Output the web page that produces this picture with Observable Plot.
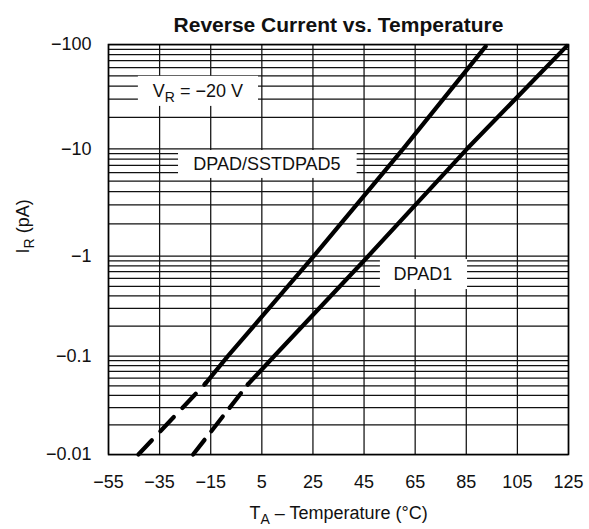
<!DOCTYPE html>
<html><head><meta charset="utf-8">
<script src="https://cdn.jsdelivr.net/npm/d3@7"></script>
<script src="https://cdn.jsdelivr.net/npm/@observablehq/plot@0.6"></script>
<style>
body{margin:0;background:#fff;}
</style></head><body><div id="chart"></div>
<script>
// Axis structure
const tempTicks = [-55, -35, -15, 5, 25, 45, 65, 85, 105, 125];
const tempTickLabels = ["−55", "−35", "−15", "5", "25", "45", "65", "85", "105", "125"];
const currentDecades = [-0.01, -0.1, -1, -10, -100];
const currentTickLabels = ["−0.01", "−0.1", "−1", "−10", "−100"];
const gridMultipliers = [1, 2, 3, 4, 5, 6, 7, 8, 9];

// DPAD/SSTDPAD5 series (temperature °C, reverse current pA)
const sstdDashT = [-43.3, -17.0];
const sstdDashI = [-0.01, -0.053];
const sstdSolidT = [-17.0, -8.3, 25.3, 60.3, 92.6];
const sstdSolidI = [-0.053, -0.1, -1, -10, -96];

// DPAD1 series
const dpad1DashT = [-21.9, -0.5];
const dpad1DashI = [-0.01, -0.0515];
const dpad1SolidT = [-0.5, 9.8, 46.6, 85.3, 124.4];
const dpad1SolidI = [-0.0515, -0.1, -1, -10, -97];

// Annotations
const labelText = ["V_R = −20 V", "DPAD/SSTDPAD5", "DPAD1"];
const labelT = [-20, 7, 68];
const labelI = [-36, -7.2, -0.667];
const boxT1 = [-43.3, -27.6, 51.4];
const boxT2 = [3.7, 42.3, 85.5];
const boxI1 = [-25.5, -5.3, -0.464];
const boxI2 = [-49.5, -9.64, -0.927];

const titleText = "Reverse Current vs. Temperature";
const xLabel = "T_A – Temperature (°C)";
const yLabel = "I_R (pA)";

const yGrid = currentDecades.slice(0, 4).flatMap(d => gridMultipliers.map(k => d * k)).concat([-100]);
const pts = (T, I) => T.map((t, i) => ({t, c: I[i]}));
const FONT = "Liberation Sans, Arial, Helvetica, sans-serif";

const plot = Plot.plot({
  width: 589,
  height: 529,
  marginLeft: 108,
  marginRight: 21,
  marginTop: 44,
  marginBottom: 75,
  style: {fontFamily: FONT, fontSize: "18px", color: "#111", background: "white"},
  x: {domain: [-55, 125], ticks: tempTicks, tickFormat: d => tempTickLabels[tempTicks.indexOf(d)], tickSize: 0, tickPadding: 21, label: null},
  y: {type: "log", domain: currentDecades, range: [454, 355.7, 255.7, 148.3, 44], ticks: currentDecades,
      tickFormat: d => currentTickLabels[currentDecades.indexOf(d)], tickSize: 0, tickPadding: 17, label: null},
  marks: [
    Plot.ruleX(tempTicks, {stroke: "#111", strokeWidth: 1.25}),
    Plot.ruleY(yGrid, {stroke: "#111", strokeWidth: 1.25}),
    Plot.rect(labelText, {x1: (d, i) => boxT1[i], x2: (d, i) => boxT2[i], y1: (d, i) => boxI1[i], y2: (d, i) => boxI2[i], fill: "white"}),
    Plot.line(pts(sstdDashT, sstdDashI), {x: "t", y: "c", stroke: "#000", strokeWidth: 4.2, strokeLinecap: "round", strokeDasharray: "19.6,12.4"}),
    Plot.line(pts(sstdSolidT, sstdSolidI), {x: "t", y: "c", stroke: "#000", strokeWidth: 4.2, strokeLinecap: "round"}),
    Plot.line(pts(dpad1DashT, dpad1DashI), {x: "t", y: "c", stroke: "#000", strokeWidth: 4.2, strokeLinecap: "round", strokeDasharray: "18.6,11"}),
    Plot.line(pts(dpad1SolidT, dpad1SolidI), {x: "t", y: "c", stroke: "#000", strokeWidth: 4.2, strokeLinecap: "round"}),
    Plot.frame({stroke: "#000", strokeWidth: 1.6}),
    Plot.text(labelText, {x: (d, i) => labelT[i], y: (d, i) => labelI[i], text: d => d, fontSize: 18, fill: "#111", className: "subtext"}),
    Plot.text([titleText], {frameAnchor: "top", lineAnchor: "bottom", dy: -13, text: d => d, fontSize: 21, fontWeight: "bold", fill: "#111"}),
    Plot.text([xLabel], {frameAnchor: "bottom", lineAnchor: "bottom", dy: 64, text: d => d, fontSize: 18, fill: "#111", className: "subtext"}),
    Plot.text([yLabel], {frameAnchor: "left", dx: -85, dy: 4, rotate: -90, text: d => d, fontSize: 18, fill: "#111", className: "subtext"})
  ]
});

// Render "_X" as subscript X, keeping everything as real text
d3.select(plot).selectAll(".subtext text").each(function () {
  const s = this.textContent;
  const t = d3.select(this);
  t.text(null);
  const parts = s.split(/_(.)/);
  parts.forEach((p, i) => {
    if (!p) return;
    if (i % 2 === 1) t.append("tspan").attr("font-size", "14px").attr("dy", "5").text(p);
    else { const ts = t.append("tspan").text(p); if (i > 0) ts.attr("dy", "-5"); }
  });
});

document.getElementById("chart").appendChild(plot);
</script>
</body></html>
